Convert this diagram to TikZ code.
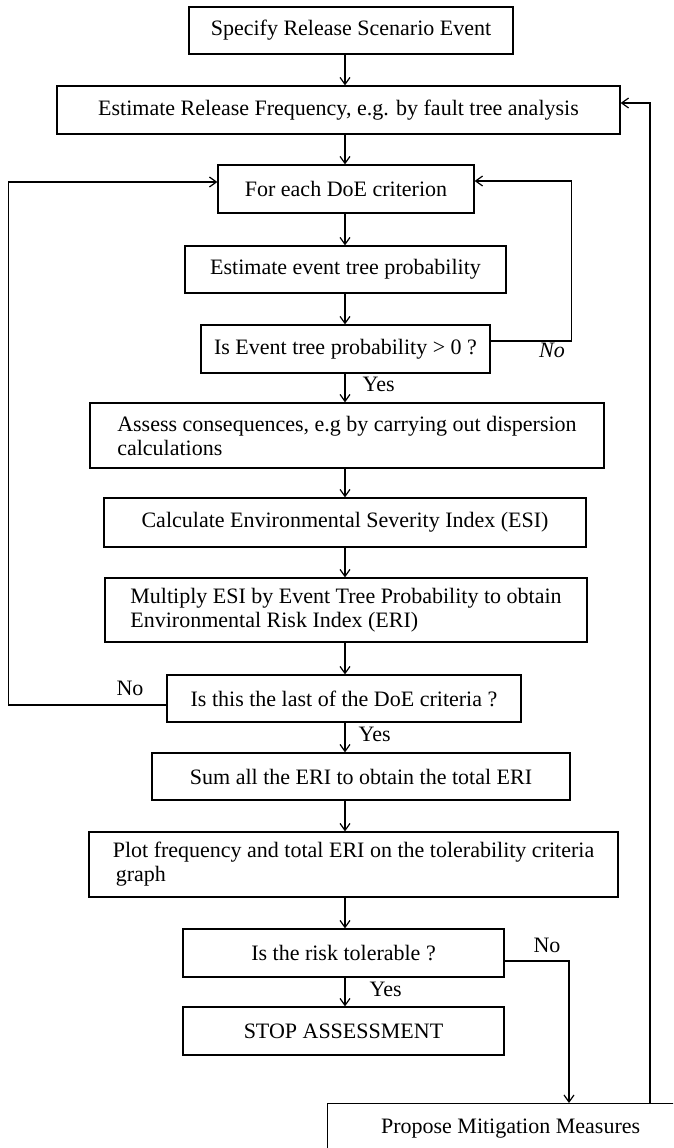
\documentclass[tikz,border=0pt]{standalone}
\usepackage{fontspec}
\setmainfont{Liberation Serif}
\usetikzlibrary{arrows.meta,positioning}

\begin{document}
\begin{tikzpicture}[x=1pt, y=-1pt, line width=1.2pt,
		>={Straight Barb[length=7pt,width=10pt]},
		box/.style={draw, rectangle, inner sep=0pt, font=\fontsize{22}{24}\selectfont},
		lbl/.style={inner sep=0pt, font=\fontsize{22}{24}\selectfont}]
		\useasboundingbox (0, 0) rectangle (673, 1148);
		\clip (0, 0) rectangle (673, 1148);
		% the column on which the main arrows run
		\coordinate (col) at (345, 0);
		% boxes, top to bottom
		\node (spec) [box, minimum width=324pt, minimum height=47pt] at (351, 30.5) {Specify Release Scenario Event};
		\node (freq) [box, minimum width=563pt, minimum height=48pt] at (338.5, 110) {Estimate Release Frequency, e.g. by fault tree analysis};
		\node (doe) [box, minimum width=256pt, minimum height=48pt] at (346, 189) {For each DoE criterion};
		\node (etp) [box, minimum width=321pt, minimum height=47pt] at (345.5, 269.5) {Estimate event tree probability};
		\node (prob) [box, minimum width=289pt, minimum height=48pt] at (345.5, 349) {Is Event tree probability > 0 ?};
		\node (cons) [box, align=left, minimum width=514pt, minimum height=65pt] at (347, 435.5) {Assess consequences, e.g by carrying out dispersion\\calculations};
		\node (esi) [box, minimum width=482pt, minimum height=49pt] at (345, 522.5) {Calculate Environmental Severity Index (ESI)};
		\node (eri) [box, align=left, minimum width=482pt, minimum height=64pt] at (346, 610) {Multiply ESI by Event Tree Probability to obtain\\Environmental Risk Index (ERI)};
		\node (last) [box, minimum width=354pt, minimum height=47pt] at (344, 698.5) {Is this the last of the DoE criteria ?};
		\node (sum) [box, minimum width=418pt, minimum height=47pt] at (361, 776.5) {Sum all the ERI to obtain the total ERI};
		\node (plot) [box, align=left, minimum width=529pt, minimum height=65pt] at (353.5, 864.5) {Plot frequency and total ERI on the tolerability criteria\\\hspace*{3pt}graph};
		\node (tol) [box, minimum width=321pt, minimum height=48pt] at (343.5, 953) {Is the risk tolerable ?};
		\node (stop) [box, minimum width=321pt, minimum height=48pt] at (343.5, 1031) {STOP ASSESSMENT};
		\node (mitig) [box, anchor=north west, minimum width=366pt, inner ysep=15pt, text height=15pt, text depth=40pt] at (327, 1103) {Propose Mitigation Measures};
		% downward arrows
		\draw [->] (col |- spec.south) -- (col |- freq.north);
		\draw [->] (col |- freq.south) -- (col |- doe.north);
		\draw [->] (col |- doe.south) -- (col |- etp.north);
		\draw [->] (col |- etp.south) -- (col |- prob.north);
		\draw [->] (col |- prob.south) -- (col |- cons.north);
		\draw [->] (col |- cons.south) -- (col |- esi.north);
		\draw [->] (col |- esi.south) -- (col |- eri.north);
		\draw [->] (col |- eri.south) -- (col |- last.north);
		\draw [->] (col |- last.south) -- (col |- sum.north);
		\draw [->] (col |- sum.south) -- (col |- plot.north);
		\draw [->] (col |- plot.south) -- (col |- tol.north);
		\draw [->] (col |- tol.south) -- (col |- stop.north);
		% loops back
		\draw [->] ([yshift=8pt]prob.east) -- ++(81, 0) |- ([yshift=8pt]doe.east);
		\draw [->] ([yshift=-6.5pt]last.west) -- ++(-158, 0) |- ([yshift=7pt]doe.west);
		\draw [->] ([yshift=-8pt]tol.east) -| ([xshift=242pt]mitig.north west);
		\draw [->] ([xshift=323pt]mitig.north west) |- ([yshift=7pt]freq.east);
		% yes / no labels
		\node (no1) [lbl, font=\fontsize{22}{24}\selectfont\itshape] at (552, 350) {No};
		\node (yes1) [lbl, anchor=west] at (362, 384) {Yes};
		\node (no2) [lbl] at (130, 688) {No};
		\node (yes2) [lbl, anchor=west] at (358, 734) {Yes};
		\node (no3) [lbl] at (547, 945) {No};
		\node (yes3) [lbl, anchor=west] at (369, 989) {Yes};
	\end{tikzpicture}
\end{document}
